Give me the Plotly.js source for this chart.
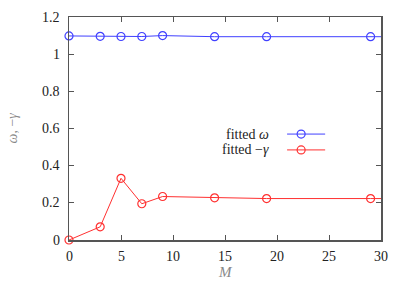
<!DOCTYPE html>
<html><head><meta charset="utf-8">
<script src="https://cdn.plot.ly/plotly-3.0.1.min.js"></script>
<style>html,body{margin:0;padding:0;background:#fff}#plot{width:407px;height:286px}</style>
</head><body><div id="plot"></div>
<script>
// Data
var M = [0, 3, 5, 7, 9, 14, 19, 29, 39];
var omega = [1.098, 1.096, 1.095, 1.095, 1.100, 1.094, 1.094, 1.094, 1.094];
var minusGamma = [0.000, 0.071, 0.332, 0.195, 0.234, 0.227, 0.223, 0.223, 0.223];
var seriesNames = ['fitted <i>\u03c9</i>', 'fitted \u2212<i>\u03b3</i>'];
var xTicks = [0, 5, 10, 15, 20, 25, 30];
var xTickText = ['0', '5', '10', '15', '20', '25', '30'];
var yTicks = [0, 0.2, 0.4, 0.6, 0.8, 1, 1.2];
var yTickText = ['0', '0.2', '0.4', '0.6', '0.8', '1', '1.2'];
var xTitle = '<i>M</i>';
var yTitle = '<i>\u03c9</i>, \u2212<i>\u03b3</i>';

var blue = 'rgb(64,64,255)', red = 'rgb(255,48,48)';
var font = 'Liberation Serif';
var txt = {family: font, size: 14, color: '#222'};

function trace(y, color, name) {
  return {x: M, y: y, name: name, mode: 'lines+markers', type: 'scatter',
    cliponaxis: false, showlegend: false,
    line: {color: color, width: 1},
    marker: {symbol: 'circle-open', size: 8, color: color, line: {width: 1.2, color: color}}};
}

function axis(extra) {
  return Object.assign({showgrid: false, zeroline: false, showline: true, mirror: 'ticks',
    linecolor: '#555', linewidth: 1.5, ticks: 'inside', ticklen: 5, tickcolor: '#555',
    tickmode: 'array', showticklabels: false}, extra);
}

var shapes = [], annotations = [];
// tick labels as serif text placed through the axes' scales
xTicks.forEach(function(v, i) {
  annotations.push({xref: 'x', yref: 'paper', x: v, y: 0, yshift: -16, xanchor: 'center', yanchor: 'middle',
    text: xTickText[i], showarrow: false, font: txt});
});
yTicks.forEach(function(v, i) {
  annotations.push({xref: 'paper', yref: 'y', x: 0, y: v, xshift: -7, xanchor: 'right', yanchor: 'middle',
    text: yTickText[i], showarrow: false, font: txt});
});
// axis titles
annotations.push({xref: 'x', yref: 'paper', x: 15, y: 0, yshift: -32, xanchor: 'center', yanchor: 'middle',
  text: xTitle, showarrow: false, font: {family: font, size: 15, color: '#888'}});
annotations.push({xref: 'paper', yref: 'paper', x: 0, y: 0.5, xshift: -57, xanchor: 'center', yanchor: 'middle',
  textangle: -90, text: yTitle, showarrow: false, font: {family: font, size: 14, color: '#888'}});

// legend (drawn manually: text right, sample on the right)
var legRows = [{y: 0.475, c: blue, t: seriesNames[0]}, {y: 0.404, c: red, t: seriesNames[1]}];
legRows.forEach(function(r) {
  shapes.push({type: 'line', xref: 'paper', yref: 'paper', x0: 0.699, x1: 0.821, y0: r.y, y1: r.y,
    line: {color: r.c, width: 1}});
  shapes.push({type: 'circle', xref: 'paper', yref: 'paper', xsizemode: 'pixel', ysizemode: 'pixel',
    xanchor: 0.744, yanchor: r.y, x0: -4, x1: 4, y0: -4, y1: 4,
    line: {color: r.c, width: 1.2}});
  annotations.push({xref: 'paper', yref: 'paper', x: 0.646, y: r.y, xanchor: 'right', yanchor: 'middle',
    text: r.t, showarrow: false, font: txt});
});

var layout = {
  width: 407, height: 286,
  font: txt,
  margin: {l: 69, r: 26, t: 17, b: 46},
  paper_bgcolor: '#fff', plot_bgcolor: '#fff',
  xaxis: axis({range: [0, 30], tickvals: xTicks}),
  yaxis: axis({range: [0, 1.2], tickvals: yTicks}),
  shapes: shapes, annotations: annotations
};

Plotly.newPlot('plot', [trace(omega, blue, seriesNames[0]), trace(minusGamma, red, seriesNames[1])], layout,
  {displayModeBar: false, staticPlot: true});
</script></body></html>
